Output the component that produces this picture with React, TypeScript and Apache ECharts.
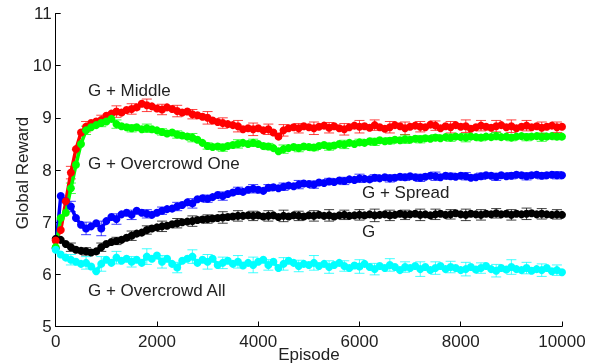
import React, { useEffect, useRef } from "react";
import * as echarts from "echarts";

const episodes: number[] = Array.from({ length: 101 }, (_, i) => i * 100);

const gMiddle = [
  6.65, 6.85, 7.40, 7.95, 8.40, 8.72, 8.83, 8.90, 8.93, 8.96,
  9.04, 9.08, 9.12, 9.10, 9.15, 9.17, 9.20, 9.27, 9.24, 9.22,
  9.18, 9.16, 9.20, 9.17, 9.13, 9.10, 9.12, 9.07, 9.05, 9.02,
  9.00, 8.95, 8.92, 8.90, 8.88, 8.86, 8.84, 8.78, 8.80, 8.78,
  8.80, 8.76, 8.78, 8.72, 8.64, 8.76, 8.80, 8.82, 8.80, 8.84,
  8.82, 8.80, 8.83, 8.85, 8.81, 8.84, 8.80, 8.78, 8.82, 8.85,
  8.83, 8.84, 8.81, 8.86, 8.82, 8.79, 8.82, 8.86, 8.84, 8.80,
  8.83, 8.85, 8.83, 8.82, 8.87, 8.85, 8.80, 8.84, 8.82, 8.86,
  8.83, 8.84, 8.79, 8.82, 8.85, 8.83, 8.81, 8.84, 8.86, 8.82,
  8.84, 8.80, 8.83, 8.85, 8.82, 8.84, 8.81, 8.83, 8.85, 8.82,
  8.83,
];

const gOvercrowdOne = [
  6.52, 7.08, 7.18, 7.65, 8.10, 8.50, 8.76, 8.82, 8.86, 8.90,
  8.93, 8.98, 8.88, 8.84, 8.82, 8.80, 8.82, 8.78, 8.80, 8.78,
  8.76, 8.73, 8.70, 8.72, 8.68, 8.66, 8.64, 8.62, 8.58, 8.52,
  8.46, 8.44, 8.45, 8.43, 8.46, 8.48, 8.50, 8.52, 8.50, 8.52,
  8.50, 8.46, 8.45, 8.42, 8.36, 8.40, 8.42, 8.44, 8.42, 8.45,
  8.44, 8.43, 8.46, 8.48, 8.45, 8.47, 8.50, 8.49, 8.52, 8.50,
  8.53, 8.52, 8.55, 8.54, 8.57, 8.55, 8.56, 8.58, 8.57, 8.59,
  8.58, 8.60, 8.59, 8.61, 8.60, 8.62, 8.61, 8.63, 8.62, 8.64,
  8.63, 8.62, 8.64, 8.63, 8.62, 8.64, 8.63, 8.65, 8.63, 8.64,
  8.62, 8.64, 8.65, 8.63, 8.64, 8.65, 8.63, 8.64, 8.65, 8.64,
  8.64,
];

const gSpread = [
  6.50, 7.50, 7.40, 7.30, 7.08, 6.95, 6.88, 6.92, 6.98, 6.88,
  7.02, 7.10, 7.06, 7.15, 7.18, 7.14, 7.22, 7.18, 7.16, 7.14,
  7.18, 7.22, 7.25, 7.26, 7.30, 7.33, 7.38, 7.36, 7.44, 7.46,
  7.45, 7.48, 7.52, 7.50, 7.54, 7.57, 7.60, 7.58, 7.62, 7.64,
  7.62, 7.60, 7.66, 7.67, 7.65, 7.68, 7.70, 7.69, 7.72, 7.74,
  7.73, 7.72, 7.76, 7.75, 7.78, 7.77, 7.80, 7.79, 7.82, 7.81,
  7.84, 7.83, 7.82, 7.85, 7.84, 7.86, 7.84, 7.85, 7.87, 7.86,
  7.88, 7.86, 7.85, 7.87, 7.89, 7.88, 7.86, 7.89, 7.88, 7.87,
  7.89, 7.88, 7.85, 7.86, 7.88, 7.90, 7.89, 7.87, 7.90, 7.88,
  7.89, 7.91, 7.90, 7.88, 7.90, 7.91, 7.89, 7.90, 7.91, 7.90,
  7.90,
];

const gOnly = [
  6.68, 6.66, 6.58, 6.52, 6.47, 6.45, 6.44, 6.42, 6.44, 6.52,
  6.58, 6.62, 6.64, 6.66, 6.70, 6.74, 6.78, 6.80, 6.85, 6.88,
  6.90, 6.92, 6.93, 6.96, 6.98, 7.00, 7.01, 7.02, 7.04, 7.05,
  7.06, 7.07, 7.08, 7.09, 7.10, 7.11, 7.12, 7.12, 7.13, 7.12,
  7.13, 7.11, 7.12, 7.13, 7.10, 7.12, 7.11, 7.13, 7.12, 7.11,
  7.13, 7.12, 7.14, 7.12, 7.13, 7.11, 7.13, 7.14, 7.12, 7.13,
  7.14, 7.13, 7.15, 7.13, 7.14, 7.15, 7.13, 7.14, 7.16, 7.14,
  7.15, 7.16, 7.14, 7.15, 7.13, 7.15, 7.16, 7.14, 7.15, 7.17,
  7.15, 7.14, 7.16, 7.15, 7.14, 7.16, 7.15, 7.17, 7.15, 7.16,
  7.14, 7.16, 7.15, 7.16, 7.17, 7.15, 7.16, 7.15, 7.14, 7.15,
  7.14,
];

const gOvercrowdAll = [
  6.47, 6.38, 6.32, 6.28, 6.24, 6.20, 6.22, 6.15, 6.06, 6.20,
  6.28, 6.22, 6.32, 6.26, 6.30, 6.24, 6.28, 6.22, 6.34, 6.30,
  6.36, 6.24, 6.30, 6.20, 6.13, 6.26, 6.30, 6.34, 6.22, 6.28,
  6.24, 6.30, 6.18, 6.22, 6.26, 6.20, 6.24, 6.17, 6.22, 6.18,
  6.24, 6.28, 6.18, 6.24, 6.12, 6.20, 6.26, 6.22, 6.16, 6.20,
  6.18, 6.22, 6.16, 6.20, 6.14, 6.18, 6.22, 6.16, 6.12, 6.17,
  6.15, 6.20, 6.14, 6.10, 6.16, 6.12, 6.18, 6.14, 6.08, 6.14,
  6.12, 6.16, 6.10, 6.14, 6.08, 6.12, 6.16, 6.10, 6.14, 6.12,
  6.08, 6.10, 6.14, 6.09, 6.12, 6.16, 6.10, 6.07, 6.12, 6.09,
  6.14, 6.10, 6.08, 6.12, 6.07, 6.10, 6.08, 6.12, 6.06, 6.08,
  6.04,
];

// error-bar episodes (every 300) and half-widths per series
const errEpisodes: number[] = Array.from({ length: 33 }, (_, i) => 300 + i * 300);
const errMiddle = [0.12,0.10,0.09,0.11,0.10,0.12,0.10,0.11,0.09,0.12,0.10,0.11,0.12,0.10,0.11,0.09,0.12,0.10,0.11,0.12,0.10,0.11,0.12,0.10,0.09,0.11,0.12,0.10,0.11,0.12,0.10,0.11,0.10];
const errOvercrowdOne = [0.10,0.08,0.07,0.08,0.07,0.08,0.06,0.07,0.08,0.06,0.07,0.08,0.07,0.06,0.08,0.07,0.06,0.07,0.08,0.06,0.07,0.06,0.08,0.07,0.06,0.07,0.08,0.06,0.07,0.06,0.07,0.08,0.06];
const errSpread = [0.10,0.12,0.14,0.10,0.09,0.08,0.07,0.08,0.09,0.07,0.08,0.07,0.08,0.06,0.07,0.08,0.07,0.06,0.07,0.08,0.06,0.07,0.06,0.07,0.08,0.06,0.07,0.06,0.07,0.06,0.07,0.06,0.07];
const errOnly = [0.08,0.07,0.08,0.07,0.09,0.08,0.10,0.09,0.10,0.08,0.11,0.10,0.09,0.10,0.11,0.09,0.10,0.11,0.09,0.10,0.12,0.10,0.09,0.11,0.10,0.09,0.11,0.10,0.09,0.10,0.11,0.10,0.09];
const errOvercrowdAll = [0.10,0.12,0.14,0.12,0.10,0.15,0.12,0.10,0.13,0.14,0.11,0.12,0.15,0.10,0.12,0.11,0.14,0.12,0.10,0.13,0.11,0.12,0.10,0.14,0.12,0.11,0.13,0.10,0.12,0.14,0.11,0.12,0.10];

const xTicks = [0, 2000, 4000, 6000, 8000, 10000];
const yTicks = [5, 6, 7, 8, 9, 10, 11];

const seriesDefs = [
  { name: "G", values: gOnly, errs: errOnly, color: "#000000" },
  { name: "G + Spread", values: gSpread, errs: errSpread, color: "#0000ff" },
  { name: "G + Middle", values: gMiddle, errs: errMiddle, color: "#ff0000" },
  { name: "G + Overcrowd One", values: gOvercrowdOne, errs: errOvercrowdOne, color: "#00ff00" },
  { name: "G + Overcrowd All", values: gOvercrowdAll, errs: errOvercrowdAll, color: "#00ffff" },
];

const labels = [
  { text: "G + Middle", x: 88, y: 90 },
  { text: "G + Overcrowd One", x: 88, y: 163 },
  { text: "G + Spread", x: 362, y: 192 },
  { text: "G", x: 362, y: 231 },
  { text: "G + Overcrowd All", x: 88, y: 290 },
];

const FONT = "'Liberation Sans', Arial, Helvetica, sans-serif";
const TXT = "#222222";

export default function App() {
  const ref = useRef<HTMLDivElement>(null);
  useEffect(() => {
    if (!ref.current) return;
    const chart = echarts.init(ref.current, undefined, { renderer: "svg" });
    const series: any[] = [];
    seriesDefs.forEach((s) => {
      const errData = errEpisodes.map((ep, i) => {
        const v = s.values[episodes.indexOf(ep)];
        return [ep, v - s.errs[i], v + s.errs[i]];
      });
      series.push({
        type: "custom",
        name: s.name + " err",
        data: errData,
        encode: { x: 0, y: [1, 2] },
        z: 2,
        renderItem: (params: any, api: any) => {
          const x = api.value(0);
          const lo = api.coord([x, api.value(1)]);
          const hi = api.coord([x, api.value(2)]);
          const w = 5;
          const st = { stroke: s.color, lineWidth: 1, opacity: 0.75 };
          return {
            type: "group",
            children: [
              { type: "line", shape: { x1: lo[0], y1: lo[1], x2: hi[0], y2: hi[1] }, style: st },
              { type: "line", shape: { x1: lo[0] - w, y1: lo[1], x2: lo[0] + w, y2: lo[1] }, style: st },
              { type: "line", shape: { x1: hi[0] - w, y1: hi[1], x2: hi[0] + w, y2: hi[1] }, style: st },
            ],
          };
        },
      });
      series.push({
        type: "line",
        name: s.name,
        data: episodes.map((e, i) => [e, s.values[i]]),
        symbol: "circle",
        symbolSize: 8,
        showSymbol: true,
        showAllSymbol: true,
        lineStyle: { color: s.color, width: 3.5 },
        itemStyle: { color: s.color },
        z: 3,
      });
    });

    chart.setOption({
      animation: false,
      grid: { left: 55.7, right: 36, top: 13.5, bottom: 37.5, containLabel: false, outerBoundsMode: "none" },
      xAxis: {
        type: "value",
        min: xTicks[0],
        max: xTicks[xTicks.length - 1],
        interval: 2000,
        splitLine: { show: false },
        axisLine: { show: true, lineStyle: { color: "#000", width: 1 } },
        axisTick: { show: true, inside: true, length: 5, lineStyle: { color: "#000" } },
        axisLabel: { color: TXT, fontSize: 17, fontFamily: FONT, margin: 6, formatter: (v: number) => String(v) },
      },
      yAxis: {
        type: "value",
        min: yTicks[0],
        max: yTicks[yTicks.length - 1],
        interval: 1,
        splitLine: { show: false },
        axisLine: { show: true, lineStyle: { color: "#000", width: 1 } },
        axisTick: { show: true, inside: true, length: 5, lineStyle: { color: "#000" } },
        axisLabel: { color: TXT, fontSize: 17, fontFamily: FONT, margin: 4, formatter: (v: number) => String(v) },
      },
      graphic: [
        ...labels.map((l) => ({
          type: "text",
          x: l.x,
          y: l.y,
          style: { text: l.text, fill: TXT, font: `17px ${FONT}`, verticalAlign: "middle" },
          z: 10,
        })),
        {
          type: "text",
          x: 309,
          y: 354,
          style: { text: "Episode", fill: TXT, font: `17px ${FONT}`, align: "center", verticalAlign: "middle" },
        },
        {
          type: "text",
          x: 22,
          y: 173,
          rotation: Math.PI / 2,
          style: { text: "Global Reward", fill: TXT, font: `17px ${FONT}`, align: "center", verticalAlign: "middle" },
        },
      ],
      series,
    });
    return () => chart.dispose();
  }, []);
  return <div ref={ref} style={{ position: "fixed", left: 0, top: 0, width: 598, height: 364 }} />;
}
